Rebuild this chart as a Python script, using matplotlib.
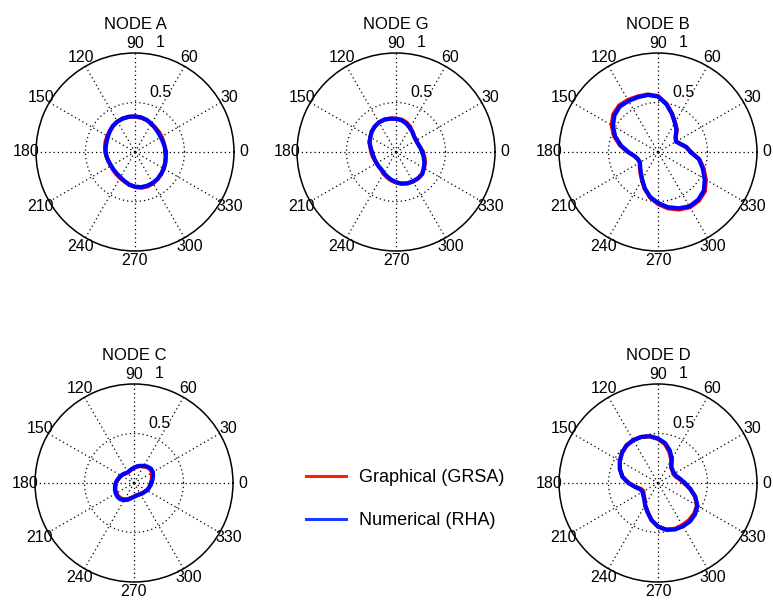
import numpy as np
import matplotlib
matplotlib.use("Agg")
import matplotlib.pyplot as plt
from matplotlib.lines import Line2D

plt.rcParams['font.family'] = ['Liberation Sans', 'DejaVu Sans']

ANGLES = [0, 10, 20, 30, 40, 50, 60, 70, 80, 90, 100, 110,
          120, 130, 140, 150, 160, 170, 180, 190, 200, 210, 220, 230,
          240, 250, 260, 270, 280, 290, 300, 310, 320, 330, 340, 350]

# normalised response per node: graphical (GRSA) and numerical (RHA)
A_grsa = [0.31, 0.305, 0.305, 0.31, 0.315, 0.32, 0.33, 0.345, 0.352, 0.357, 0.36, 0.36,
          0.355, 0.345, 0.332, 0.322, 0.315, 0.308, 0.30, 0.29, 0.283, 0.28, 0.285, 0.292,
          0.302, 0.315, 0.335, 0.353, 0.367, 0.37, 0.365, 0.355, 0.345, 0.335, 0.325, 0.315]
A_rha = [0.31, 0.305, 0.30, 0.30, 0.305, 0.315, 0.33, 0.345, 0.355, 0.36, 0.362, 0.36,
         0.355, 0.345, 0.33, 0.315, 0.305, 0.30, 0.297, 0.29, 0.283, 0.278, 0.28, 0.285,
         0.295, 0.312, 0.335, 0.35, 0.36, 0.362, 0.36, 0.355, 0.345, 0.335, 0.325, 0.315]

G_grsa = [0.27, 0.25, 0.237, 0.235, 0.24, 0.26, 0.29, 0.315, 0.332, 0.338, 0.342, 0.348,
          0.345, 0.335, 0.32, 0.30, 0.285, 0.262, 0.25, 0.24, 0.23, 0.226, 0.227, 0.232,
          0.252, 0.27, 0.29, 0.308, 0.325, 0.337, 0.343, 0.347, 0.345, 0.327, 0.312, 0.292]
G_rha = [0.265, 0.25, 0.237, 0.235, 0.24, 0.26, 0.28, 0.305, 0.325, 0.335, 0.342, 0.348,
         0.345, 0.335, 0.32, 0.30, 0.285, 0.26, 0.242, 0.232, 0.228, 0.226, 0.227, 0.23,
         0.245, 0.262, 0.283, 0.305, 0.325, 0.337, 0.343, 0.347, 0.345, 0.325, 0.305, 0.283]

B_grsa = [0.33, 0.29, 0.24, 0.212, 0.235, 0.295, 0.345, 0.415, 0.495, 0.565, 0.59, 0.597,
          0.607, 0.612, 0.59, 0.54, 0.472, 0.39, 0.305, 0.24, 0.215, 0.212, 0.24, 0.275,
          0.325, 0.395, 0.465, 0.525, 0.578, 0.618, 0.645, 0.642, 0.618, 0.558, 0.49, 0.425]
B_rha = [0.33, 0.29, 0.24, 0.21, 0.23, 0.29, 0.34, 0.41, 0.49, 0.56, 0.585, 0.59,
         0.595, 0.60, 0.575, 0.525, 0.46, 0.38, 0.30, 0.24, 0.215, 0.21, 0.235, 0.27,
         0.32, 0.39, 0.46, 0.515, 0.565, 0.605, 0.635, 0.63, 0.605, 0.545, 0.48, 0.42]

C_grsa = [0.172, 0.182, 0.195, 0.21, 0.215, 0.208, 0.195, 0.182, 0.168, 0.153, 0.14, 0.13,
          0.124, 0.128, 0.138, 0.148, 0.158, 0.17, 0.182, 0.19, 0.2, 0.206, 0.208, 0.205,
          0.19, 0.172, 0.152, 0.138, 0.128, 0.126, 0.128, 0.133, 0.138, 0.148, 0.155, 0.164]
C_rha = [0.175, 0.19, 0.205, 0.22, 0.225, 0.215, 0.20, 0.185, 0.17, 0.155, 0.142, 0.132,
         0.125, 0.13, 0.14, 0.15, 0.16, 0.172, 0.185, 0.195, 0.205, 0.213, 0.218, 0.215,
         0.20, 0.18, 0.155, 0.14, 0.13, 0.128, 0.13, 0.135, 0.14, 0.15, 0.158, 0.166]

D_grsa = [0.265, 0.222, 0.19, 0.18, 0.19, 0.205, 0.267, 0.335, 0.40, 0.445, 0.478, 0.495,
          0.50, 0.495, 0.475, 0.445, 0.41, 0.365, 0.295, 0.228, 0.18, 0.17, 0.188, 0.212,
          0.258, 0.31, 0.38, 0.44, 0.478, 0.493, 0.493, 0.49, 0.478, 0.455, 0.398, 0.328]
D_rha = [0.27, 0.23, 0.20, 0.19, 0.195, 0.21, 0.28, 0.35, 0.41, 0.45, 0.48, 0.495,
         0.50, 0.495, 0.475, 0.445, 0.41, 0.365, 0.30, 0.235, 0.19, 0.18, 0.195, 0.215,
         0.26, 0.31, 0.38, 0.44, 0.48, 0.50, 0.505, 0.505, 0.49, 0.46, 0.40, 0.33]

NODES = ["NODE A", "NODE G", "NODE B", "NODE C", "NODE D"]
GRSA = [A_grsa, G_grsa, B_grsa, C_grsa, D_grsa]
RHA = [A_rha, G_rha, B_rha, C_rha, D_rha]
TICK_ANGLES = [0, 30, 60, 90, 120, 150, 180, 210, 240, 270, 300, 330]
LEGEND_LABELS = ["Graphical (GRSA)", "Numerical (RHA)"]

W, H = 773, 600
R_PX = 99
# centres of the polar plots in pixels
CENTERS = [(135, 152), (396, 152), (658, 152), (134, 483), (658, 483)]


def closed(values):
    th = np.radians(ANGLES + [ANGLES[0]])
    return th, np.array(values + [values[0]])


def cart_text(ax, x, y, s, **kw):
    # place text using cartesian coords in units of the outer radius
    ax.text(np.arctan2(y, x), np.hypot(x, y), s, clip_on=False, **kw)


def polar_panel(fig, center, title, grsa, rha):
    cx, cy = center
    rect = [(cx - R_PX) / W, 1 - (cy + R_PX) / H, 2 * R_PX / W, 2 * R_PX / H]
    ax = fig.add_axes(rect, projection='polar')
    ax.set_ylim(0, 1)
    ax.set_xticks(np.radians(TICK_ANGLES))
    ax.set_xticklabels([])
    ax.set_yticks([0.5])
    ax.set_yticklabels([])
    ax.grid(True, color='k', linestyle=(0, (1, 2.4)), linewidth=0.9)
    ax.spines['polar'].set_linewidth(1.1)
    ax.tick_params(length=0)

    th, r = closed(grsa)
    ax.plot(th, r, color='#ff0000', lw=3.0, solid_joinstyle='round')
    th, r = closed(rha)
    ax.plot(th, r, color='#0000ff', lw=3.0, solid_joinstyle='round')

    for a in TICK_ANGLES:
        ax.text(np.radians(a), 1.1, str(a), ha='center', va='center',
                fontsize=11.5, clip_on=False)
    cart_text(ax, 0.15, 0.556, "0.5", ha='left', va='baseline', fontsize=11.5)
    cart_text(ax, 0.21, 1.06, "1", ha='left', va='baseline', fontsize=11.5)
    ax.text(0.5, 1.145, title, transform=ax.transAxes, ha='center',
            va='center', fontsize=12)
    return ax


def main():
    fig = plt.figure(figsize=(W / 100, H / 100), dpi=100)
    for name, center, g, n in zip(NODES, CENTERS, GRSA, RHA):
        polar_panel(fig, center, name, g, n)

    handles = [Line2D([], [], color='#ff2000', lw=2.2),
               Line2D([], [], color='#1a3cff', lw=2.2)]
    fig.legend(handles, LEGEND_LABELS,
               loc='center', bbox_to_anchor=(0.524, 0.168), frameon=False,
               fontsize=13, handlelength=2.2, handletextpad=0.7,
               labelspacing=1.42)

    fig.savefig("out.png", dpi=100)
    plt.close(fig)


if __name__ == '__main__':
    main()
